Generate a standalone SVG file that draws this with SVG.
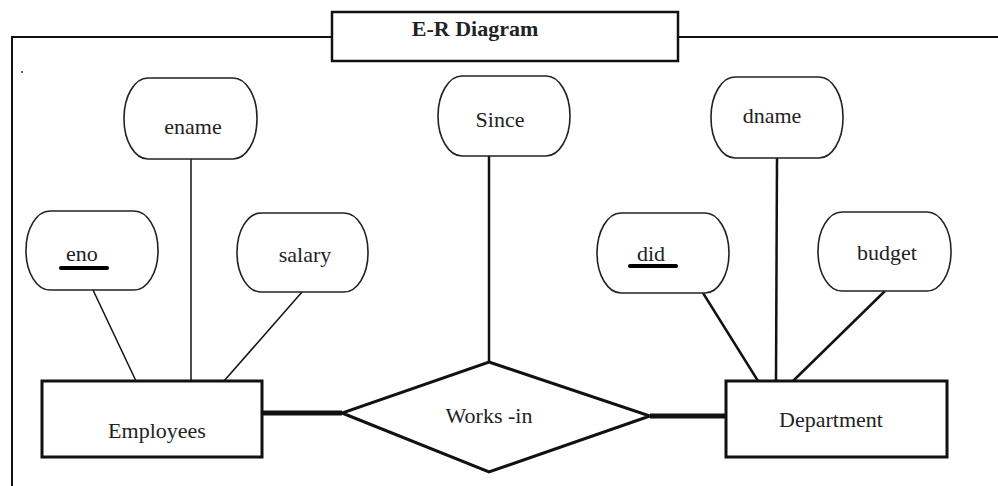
<svg xmlns="http://www.w3.org/2000/svg" width="998" height="486" viewBox="0 0 998 486">
<style>
text{font-family:"Liberation Serif","Times New Roman",serif;font-size:22px;fill:#222;text-anchor:middle}
.attr{fill:#fff;stroke:#222;stroke-width:1.6}
.ent{fill:#fff;stroke:#111;stroke-width:3}
.ln{stroke:#111;fill:none}
</style>
<rect width="998" height="486" fill="#fff"/>
<g id="frame">
<path class="ln" stroke-width="2" d="M12,486 V37 H332 M678,37 H998"/>
<circle cx="22" cy="72" r="1" fill="#333"/>
</g>
<g id="title">
<rect x="332" y="12" width="346" height="49" fill="#fff" stroke="#111" stroke-width="2.5"/>
<text x="475" y="36" font-weight="bold" font-size="21">E-R Diagram</text>
</g>
<g id="connectors">
<line class="ln" stroke-width="1.5" x1="93" y1="290" x2="136" y2="381"/>
<line class="ln" stroke-width="1.5" x1="191" y1="159" x2="191" y2="381"/>
<line class="ln" stroke-width="1.5" x1="302" y1="292" x2="224" y2="381"/>
<line class="ln" stroke-width="2.5" x1="489" y1="156" x2="489" y2="362"/>
<line class="ln" stroke-width="2.5" x1="703" y1="293" x2="758" y2="381"/>
<line class="ln" stroke-width="2.5" x1="777" y1="158" x2="776" y2="381"/>
<line class="ln" stroke-width="2.5" x1="885" y1="291" x2="793" y2="381"/>
<line class="ln" stroke-width="5" x1="262" y1="413" x2="342" y2="413"/>
<line class="ln" stroke-width="5" x1="650" y1="416" x2="726" y2="416"/>
</g>
<g id="ename"><rect class="attr" x="124" y="78" width="133" height="81" rx="24" ry="40"/><text x="193" y="134">ename</text></g>
<g id="since"><rect class="attr" x="438" y="76" width="132" height="80" rx="24" ry="40"/><text x="500" y="127">Since</text></g>
<g id="dname"><rect class="attr" x="711" y="77" width="132" height="81" rx="24" ry="40"/><text x="772" y="123">dname</text></g>
<g id="eno"><rect class="attr" x="26" y="211" width="132" height="79" rx="24" ry="39"/><text x="82" y="261">eno</text><line x1="61" y1="268" x2="107" y2="268" stroke="#000" stroke-width="4" stroke-linecap="round"/></g>
<g id="salary"><rect class="attr" x="237" y="213" width="131" height="79" rx="24" ry="39"/><text x="305" y="262">salary</text></g>
<g id="did"><rect class="attr" x="597" y="213" width="132" height="80" rx="24" ry="40"/><text x="651" y="261">did</text><line x1="630" y1="266" x2="676" y2="266" stroke="#000" stroke-width="4" stroke-linecap="round"/></g>
<g id="budget"><rect class="attr" x="818" y="212" width="133" height="79" rx="24" ry="39"/><text x="887" y="260">budget</text></g>
<g id="employees"><rect class="ent" x="42" y="381" width="220" height="76"/><text x="157" y="438">Employees</text></g>
<g id="worksin"><polygon points="489,362 650,416 489,472 342,413" fill="#fff" stroke="#111" stroke-width="3"/><text x="489" y="423">Works -in</text></g>
<g id="department"><rect class="ent" x="726" y="381" width="221" height="76"/><text x="831" y="427">Department</text></g>
</svg>
